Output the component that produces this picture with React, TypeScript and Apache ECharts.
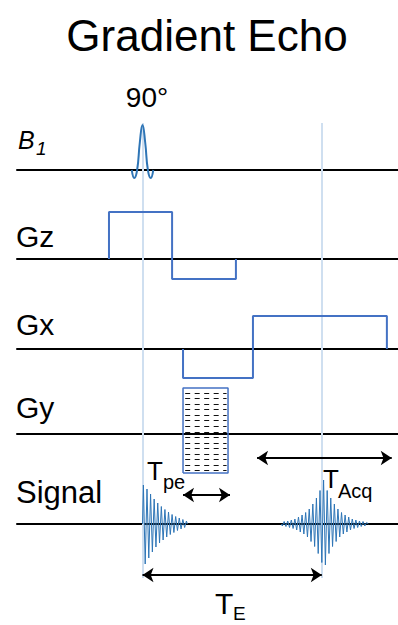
import React, { useEffect, useRef } from "react";
import * as echarts from "echarts";

// ---- time axis (ms) ----
const TIME_MIN = -7;
const TIME_MAX = 14.25;
const TE = 10;

// channel names
const channelLabels = ["Gz", "Gx", "Gy", "Signal"];

// RF pulse (time, amplitude)
const rfPulse: number[][] = [
  [-0.6, 0], [-0.46, -0.16], [-0.3, 0], [-0.15, 0.55], [0, 0.9],
  [0.15, 0.55], [0.3, 0], [0.46, -0.16], [0.6, 0],
];

// gradient lobes: [start, end, amplitude]
const gzLobes: number[][] = [[-1.87, 1.65, 0.94], [1.65, 5.21, -0.4]];
const gxLobes: number[][] = [[2.26, 6.16, -0.58], [6.16, 13.63, 0.66]];

// phase encode table
const gyWindow = [2.26, 4.77];
const gyRange = [-0.78, 0.92];
const gySteps = [0.82, 0.71, 0.6, 0.49, 0.38, 0.27, 0.16, 0.04, -0.07, -0.18, -0.29, -0.4, -0.51, -0.62, -0.72];

// FID (time, amplitude)
const fid: number[][] = [
  [0.0, 0], [0.05, 0.78], [0.15, -0.8], [0.25, 0.7], [0.35, -0.68], [0.45, 0.6], [0.55, -0.56],
  [0.65, 0.5], [0.75, -0.46], [0.85, 0.42], [0.95, -0.38], [1.05, 0.35], [1.15, -0.32],
  [1.25, 0.29], [1.35, -0.26], [1.45, 0.24], [1.55, -0.21], [1.65, 0.19], [1.75, -0.17],
  [1.85, 0.15], [1.95, -0.13], [2.05, 0.12], [2.15, -0.1], [2.25, 0.09], [2.35, -0.07],
  [2.45, 0.06], [2.5, 0],
];

// gradient echo (time, amplitude)
const echo: number[][] = [
  [7.75, 0], [7.8, -0.04], [7.9, 0.05], [8.0, -0.05], [8.1, 0.06], [8.2, -0.07], [8.3, 0.08],
  [8.4, -0.09], [8.5, 0.1], [8.6, -0.12], [8.7, 0.14], [8.8, -0.16], [8.9, 0.18], [9.0, -0.2],
  [9.1, 0.23], [9.2, -0.26], [9.3, 0.3], [9.4, -0.35], [9.5, 0.4], [9.6, -0.45], [9.7, 0.52],
  [9.8, -0.59], [9.9, 0.67], [10.0, -0.77], [10.1, 0.88], [10.2, -0.82], [10.3, 0.67],
  [10.4, -0.59], [10.5, 0.52], [10.6, -0.45], [10.7, 0.4], [10.8, -0.35], [10.9, 0.3],
  [11.0, -0.26], [11.1, 0.23], [11.2, -0.2], [11.3, 0.18], [11.4, -0.16], [11.5, 0.14],
  [11.6, -0.12], [11.7, 0.1], [11.8, -0.09], [11.9, 0.08], [12.0, -0.07], [12.1, 0.06],
  [12.2, -0.05], [12.3, 0.05], [12.4, -0.04], [12.5, 0.03], [12.6, 0],
];

// timing spans
const tpeSpan = [2.26, 4.88];
const tacqSpan = [6.39, 13.9];
const teSpan = [0, TE];
const markerTimes = [0, TE];

// ---- layout / style ----
const FONT = "'Liberation Sans', Arial, Helvetica, sans-serif";
const GRAD_BLUE = "#4472C4";
const SIG_BLUE = "#2E75B6";
const baselinesPx = [170, 259, 349, 434, 524];
const labelYPx = [236, 324, 407, 492];
const labelSize = [30, 30, 30, 31];

function lobesToLine(lobes: number[][]) {
  const pts: number[][] = [];
  lobes.forEach(([s, e, a]) => {
    pts.push([s, 0], [s, a], [e, a], [e, 0]);
  });
  return pts;
}

export default function App() {
  const ref = useRef<HTMLDivElement>(null);
  useEffect(() => {
    if (!ref.current) return;
    const chart = echarts.init(ref.current, undefined, { renderer: "svg" });

    const grids: any[] = baselinesPx.map((b) => ({ left: 17, right: 0, top: b - 100, height: 200 }));
    grids.push({ left: 17, right: 0, top: 123, bottom: 47 });

    const xAxes: any[] = grids.map((_, i) => ({
      type: "value",
      gridIndex: i,
      min: TIME_MIN,
      max: TIME_MAX,
      show: i < 5,
      axisLine: { show: true, onZero: true, lineStyle: { color: "#000", width: 2 } },
      axisTick: { show: false },
      axisLabel: { show: false },
      splitLine: { show: false },
    }));
    const yAxes: any[] = grids.map((_, i) => ({
      type: "value",
      gridIndex: i,
      min: i < 5 ? -2 : 0,
      max: i < 5 ? 2 : 1,
      show: false,
    }));

    const gyBox = [
      [gyWindow[0], gyRange[0]], [gyWindow[0], gyRange[1]],
      [gyWindow[1], gyRange[1]], [gyWindow[1], gyRange[0]], [gyWindow[0], gyRange[0]],
    ];

    const series: any[] = [
      {
        type: "lines", coordinateSystem: "cartesian2d", xAxisIndex: 5, yAxisIndex: 5, z: 1,
        data: markerTimes.map((t) => ({ coords: [[t, 0], [t, 1]] })),
        lineStyle: { color: "#CFDFF0", width: 2, opacity: 1 },
      },
      {
        type: "line", xAxisIndex: 0, yAxisIndex: 0, data: rfPulse, smooth: 0.5, showSymbol: false,
        lineStyle: { color: SIG_BLUE, width: 2 }, z: 3,
      },
      {
        type: "line", xAxisIndex: 1, yAxisIndex: 1, data: lobesToLine(gzLobes), showSymbol: false,
        lineStyle: { color: GRAD_BLUE, width: 2 }, z: 3,
      },
      {
        type: "line", xAxisIndex: 2, yAxisIndex: 2, data: lobesToLine(gxLobes), showSymbol: false,
        lineStyle: { color: GRAD_BLUE, width: 2 }, z: 3,
      },
      {
        type: "lines", coordinateSystem: "cartesian2d", xAxisIndex: 3, yAxisIndex: 3, z: 3,
        data: gySteps.map((a) => ({ coords: [[gyWindow[0] + 0.12, a], [gyWindow[1] - 0.08, a]] })),
        lineStyle: { color: "#111", width: 1.1, type: [5, 4.5], opacity: 1 },
      },
      {
        type: "line", xAxisIndex: 3, yAxisIndex: 3, data: gyBox, showSymbol: false,
        lineStyle: { color: GRAD_BLUE, width: 1.5 }, z: 4,
      },
      {
        type: "line", xAxisIndex: 4, yAxisIndex: 4, data: fid, showSymbol: false,
        lineStyle: { color: SIG_BLUE, width: 1 }, z: 3,
      },
      {
        type: "line", xAxisIndex: 4, yAxisIndex: 4, data: echo, showSymbol: false,
        lineStyle: { color: SIG_BLUE, width: 1 }, z: 3,
      },
      {
        type: "lines", coordinateSystem: "cartesian2d", xAxisIndex: 4, yAxisIndex: 4, z: 5,
        symbol: ["arrow", "arrow"], symbolSize: 11,
        lineStyle: { color: "#000", width: 2, opacity: 1 },
        data: [
          { coords: [[tpeSpan[0], 0.58], [tpeSpan[1], 0.58]] },
          { coords: [[tacqSpan[0], 1.32], [tacqSpan[1], 1.32]] },
          { coords: [[teSpan[0], -1.02], [teSpan[1], -1.02]] },
        ],
      },
    ];

    const txt = (text: string, x: number, y: number, size: number, extra: any = {}) => ({
      type: "text", x, y, z: 10,
      style: { text, fontSize: size, fontFamily: FONT, fill: "#000", align: "left", verticalAlign: "middle", ...extra },
    });

    const graphic: any[] = [
      txt("Gradient Echo", 207, 35, 44, { align: "center" }),
      txt("90°", 147, 97, 28, { align: "center" }),
      txt("B", 18, 140, 25, { fontStyle: "italic" }),
      txt("1", 36, 148, 19, { fontStyle: "italic" }),
      ...channelLabels.map((l, i) => txt(l, 16, labelYPx[i], labelSize[i])),
      txt("T", 147, 471, 26),
      txt("pe", 163, 482, 20),
      txt("T", 323, 479, 26),
      txt("Acq", 338, 491, 20),
      txt("T", 215, 603, 30),
      txt("E", 233, 613, 19),
    ];

    chart.setOption({
      animation: false,
      backgroundColor: "#fff",
      grid: grids,
      xAxis: xAxes,
      yAxis: yAxes,
      series,
      graphic,
    });
    return () => chart.dispose();
  }, []);
  return <div ref={ref} style={{ position: "fixed", left: 0, top: 0, width: 398, height: 625 }} />;
}
